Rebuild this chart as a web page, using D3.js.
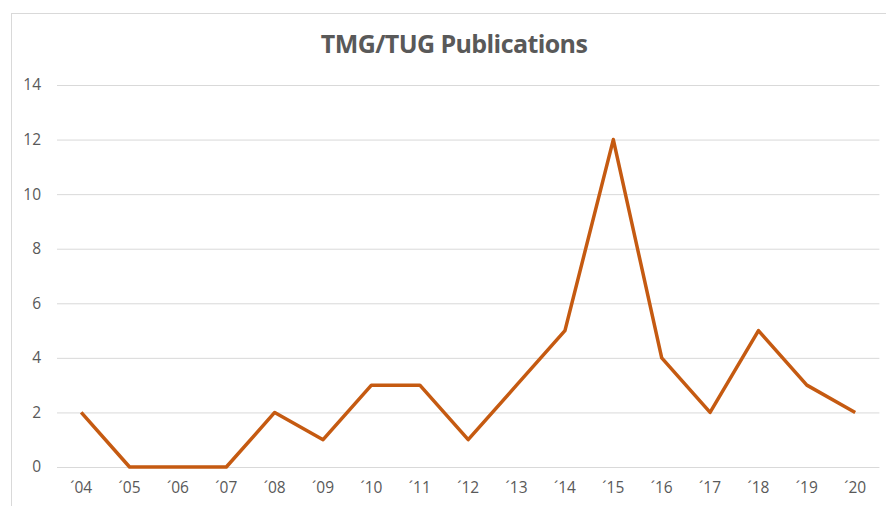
<!DOCTYPE html>
<html><head><meta charset="utf-8">
<script src="https://cdn.jsdelivr.net/npm/d3@7"></script>
<style>body{margin:0;background:#fff;}svg{display:block;font-family:Calibri,Carlito,"Open Sans",sans-serif;}</style>
</head><body><svg id="c" width="886" height="506"></svg>
<script>
const categories = ["´04","´05","´06","´07","´08","´09","´10","´11","´12","´13","´14","´15","´16","´17","´18","´19","´20"];
const values = [2,0,0,0,2,1,3,3,1,3,5,12,4,2,5,3,2];
const yTicks = [0,2,4,6,8,10,12,14];
const title = "TMG/TUG Publications";

const svg = d3.select("#c");
svg.append("rect").attr("x",11.5).attr("y",13.5).attr("width",890).attr("height",520)
  .attr("fill","#fff").attr("stroke","#d9d9d9").attr("stroke-width",1);

const x = d3.scaleBand().domain(categories).range([57,879.4]);
const y = d3.scaleLinear().domain([0,14]).range([467,85]);

svg.append("text").attr("x",454).attr("y",53).attr("text-anchor","middle")
  .attr("font-size",25).attr("font-weight","bold").attr("fill","#595959")
  .attr("font-family","'Open Sans',sans-serif").attr("letter-spacing",-0.6).text(title);

const gy = svg.append("g").attr("transform","translate(57,0)")
  .call(d3.axisLeft(y).tickValues(yTicks).tickSize(-(879.4-57)).tickPadding(16));
gy.select(".domain").remove();
gy.selectAll(".tick line").attr("stroke","#d9d9d9").attr("stroke-width",1);
gy.selectAll(".tick text").attr("fill","#595959").attr("font-size",15.5).attr("font-family","'Open Sans',sans-serif");

const gx = svg.append("g").attr("transform","translate(0,467)")
  .call(d3.axisBottom(x).tickSize(0).tickPadding(15));
gx.select(".domain").remove();
gx.selectAll(".tick text").attr("fill","#595959").attr("font-size",15.5).attr("font-family","'Open Sans',sans-serif");

const line = d3.line().x((d,i)=>x(categories[i])+x.bandwidth()/2).y(d=>y(d));
svg.append("path").datum(values).attr("d",line).attr("fill","none")
  .attr("stroke","#C55A11").attr("stroke-width",3.5).attr("stroke-linejoin","round");
</script></body></html>
